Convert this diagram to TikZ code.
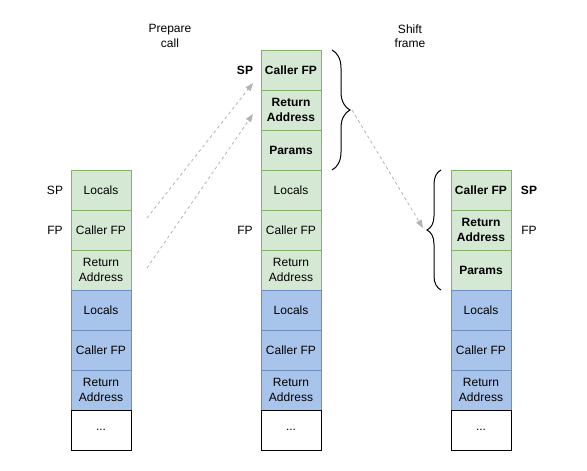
\documentclass[tikz,border=0pt]{standalone}
\usepackage{fontspec}
\setmainfont{Liberation Sans}
\usetikzlibrary{decorations.pathreplacing,arrows.meta}
\definecolor{gfill}{HTML}{D5E8D4}
\definecolor{gline}{HTML}{82B366}
\definecolor{bfill}{HTML}{A9C4EB}
\definecolor{bline}{HTML}{6C8EBF}
\definecolor{arr}{HTML}{B3B3B3}
\begin{document}
\begin{tikzpicture}[x=1pt,y=-1pt,
 cell/.style={draw, minimum width=60pt, minimum height=40pt, inner sep=0pt, outer sep=0pt, align=center, font=\fontsize{12}{14.5}\selectfont, line width=0.8pt},
 gcell/.style={cell, fill=gfill, draw=gline},
 bcell/.style={cell, fill=bfill, draw=bline},
 wcell/.style={cell, fill=white, draw=black},
 bold/.style={font=\fontsize{12}{14.5}\selectfont\bfseries},
 lbl/.style={font=\fontsize{12}{14.5}\selectfont, inner sep=0pt, align=center},
 conn/.style={draw=arr, dash pattern=on 3pt off 3pt, line width=0.8pt, -{Triangle[length=8pt,width=6pt,fill=arr]}},
 brc/.style={decorate, decoration={brace, amplitude=#1}, line width=1pt}
]
\useasboundingbox (0,0) rectangle (587,471);
% left column
\node[gcell] (l1) at (101,190) {Locals};
\node[gcell] (l2) at (101,230) {Caller FP};
\node[gcell] (l3) at (101,270) {Return\\Address};
\node[bcell] (l4) at (101,310) {Locals};
\node[bcell] (l5) at (101,350) {Caller FP};
\node[bcell] (l6) at (101,390) {Return\\Address};
\node[wcell] (l7) at (101,430) {...};
\node[lbl] (lsp) at (55,190) {SP};
\node[lbl] (lfp) at (55,230) {FP};
% middle column
\node[gcell,bold] (m1) at (291,70) {Caller FP};
\node[gcell,bold] (m2) at (291,110) {Return\\Address};
\node[gcell,bold] (m3) at (291,150) {Params};
\node[gcell] (m4) at (291,190) {Locals};
\node[gcell] (m5) at (291,230) {Caller FP};
\node[gcell] (m6) at (291,270) {Return\\Address};
\node[bcell] (m7) at (291,310) {Locals};
\node[bcell] (m8) at (291,350) {Caller FP};
\node[bcell] (m9) at (291,390) {Return\\Address};
\node[wcell] (m10) at (291,430) {...};
\node[lbl,font=\fontsize{12}{14.5}\selectfont\bfseries] (msp) at (245,70) {SP};
\node[lbl] (mfp) at (245,230) {FP};
% right column
\node[gcell,bold] (r1) at (481,190) {Caller FP};
\node[gcell,bold] (r2) at (481,230) {Return\\Address};
\node[gcell,bold] (r3) at (481,270) {Params};
\node[bcell] (r4) at (481,310) {Locals};
\node[bcell] (r5) at (481,350) {Caller FP};
\node[bcell] (r6) at (481,390) {Return\\Address};
\node[wcell] (r7) at (481,430) {...};
\node[lbl,font=\fontsize{12}{14.5}\selectfont\bfseries] (rsp) at (529,190) {SP};
\node[lbl] (rfp) at (529,230) {FP};
% titles
\node[lbl] (t1) at (170,36) {Prepare\\call};
\node[lbl] (t2) at (410,36) {Shift\\frame};
% braces
\coordinate (mbt) at (332,50);
\coordinate (mbb) at (332,170);
\coordinate (rbt) at (441,170);
\coordinate (rbb) at (441,290);
\draw[brc=18pt] (mbt) -- (mbb);
\draw[brc=14pt] (rbb) -- (rbt);
% arrows
\coordinate (a1s) at (147,218);
\coordinate (a1e) at (253,83);
\coordinate (a2s) at (147,268);
\coordinate (a2e) at (253,114);
\coordinate (a3s) at (352,110);
\coordinate (a3e) at (423,228);
\draw[conn] (a1s) -- (a1e);
\draw[conn] (a2s) -- (a2e);
\draw[conn] (a3s) -- (a3e);
\end{tikzpicture}
\end{document}
